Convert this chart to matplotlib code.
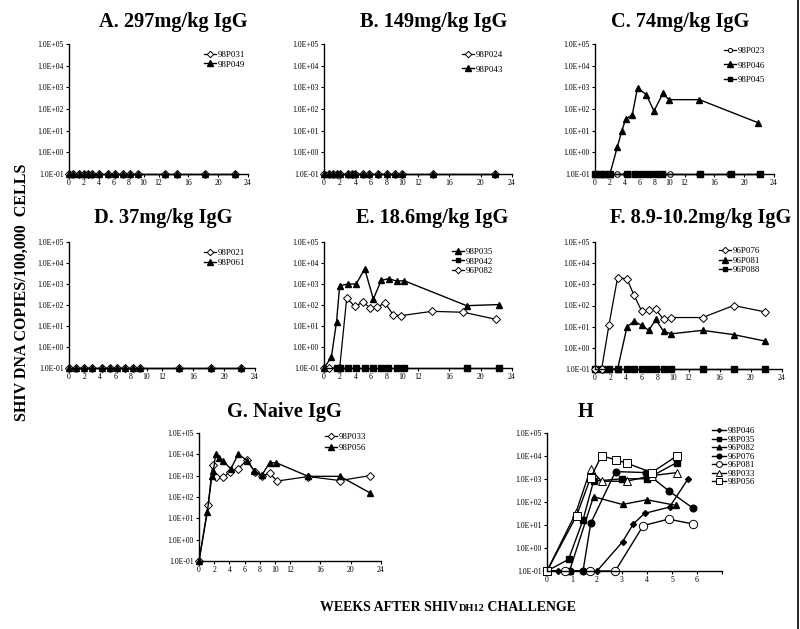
import matplotlib
matplotlib.use('Agg')
import matplotlib.pyplot as plt
from matplotlib.lines import Line2D

plt.rcParams['font.family'] = ['Liberation Serif', 'DejaVu Serif']

# ---------------- data ----------------
ytick_vals = [1e-1, 1e0, 1e1, 1e2, 1e3, 1e4, 1e5]
ytick_labels = ['1.0E-01', '1.0E+00', '1.0E+01', '1.0E+02', '1.0E+03', '1.0E+04', '1.0E+05']
xtick_vals = [0, 2, 4, 6, 8, 10, 12, 16, 20, 24]
xtick_labels = ['0', '2', '4', '6', '8', '10', '12', '16', '20', '24']
h_xtick_vals = [0, 1, 2, 3, 4, 5, 6, 7]
h_xtick_labels = ['0', '1', '2', '3', '4', '5', '6', '']

titles = ['A. 297mg/kg IgG', 'B. 149mg/kg IgG', 'C. 74mg/kg IgG', 'D. 37mg/kg IgG',
          'E. 18.6mg/kg IgG', 'F. 8.9-10.2mg/kg IgG', 'G. Naive IgG', 'H']

# Panel A
a_weeks = [0, 0.6, 1.3, 2.0, 2.6, 3.1, 4.0, 5.2, 6.2, 7.2, 8.2, 9.2, 12.9, 14.5, 18.3, 22.2]
a_98P031 = [0.1, 0.1, 0.1, 0.1, 0.1, 0.1, 0.1, 0.1, 0.1, 0.1, 0.1, 0.1, 0.1, 0.1, 0.1, 0.1]
a_98P049 = [0.1, 0.1, 0.1, 0.1, 0.1, 0.1, 0.1, 0.1, 0.1, 0.1, 0.1, 0.1, 0.1, 0.1, 0.1, 0.1]

# Panel B
b_weeks = [0, 0.6, 1.1, 1.7, 2.1, 3.1, 3.6, 4.0, 5.0, 5.7, 6.9, 8.0, 9.1, 10.0, 13.9, 21.8]
b_98P024 = [0.1, 0.1, 0.1, 0.1, 0.1, 0.1, 0.1, 0.1, 0.1, 0.1, 0.1, 0.1, 0.1, 0.1, 0.1, 0.1]
b_98P043 = [0.1, 0.1, 0.1, 0.1, 0.1, 0.1, 0.1, 0.1, 0.1, 0.1, 0.1, 0.1, 0.1, 0.1, 0.1, 0.1]

# Panel C
c_weeks_023 = [0, 0.7, 1.3, 2.0, 3.0, 4.1, 5.0, 6.0, 6.9, 7.9, 9.1, 10.0, 14.0, 18.0, 22.0]
c_98P023 = [0.1, 0.1, 0.1, 0.1, 0.1, 0.1, 0.1, 0.1, 0.1, 0.1, 0.1, 0.1, 0.1, 0.1, 0.1]
c_weeks_046 = [0, 0.7, 1.3, 2.0, 3.0, 3.6, 4.1, 5.0, 5.7, 6.9, 7.9, 9.1, 9.9, 14.0, 21.9]
c_98P046 = [0.1, 0.1, 0.1, 0.1, 1.8, 10, 33, 55, 950, 450, 80, 520, 270, 270, 23]
c_weeks_045 = [0, 0.7, 1.3, 2.0, 4.3, 5.3, 6.3, 7.2, 8.2, 9.0, 14.1, 18.2, 22.1]
c_98P045 = [0.1, 0.1, 0.1, 0.1, 0.1, 0.1, 0.1, 0.1, 0.1, 0.1, 0.1, 0.1, 0.1]

# Panel D
d_weeks = [0, 0.9, 1.9, 3.0, 4.3, 5.3, 6.2, 7.2, 8.2, 9.1, 14.2, 18.3, 22.2]
d_98P021 = [0.1, 0.1, 0.1, 0.1, 0.1, 0.1, 0.1, 0.1, 0.1, 0.1, 0.1, 0.1, 0.1]
d_98P061 = [0.1, 0.1, 0.1, 0.1, 0.1, 0.1, 0.1, 0.1, 0.1, 0.1, 0.1, 0.1, 0.1]

# Panel E
e_weeks_035 = [0, 0.94, 1.6, 2.0, 3.1, 4.1, 5.2, 6.3, 7.3, 8.3, 9.3, 10.2, 18.2, 22.4]
e_98P035 = [0.1, 0.33, 16, 830, 1000, 1000, 5200, 190, 1500, 1800, 1350, 1450, 93, 105]
e_weeks_042 = [1.6, 2.0, 3.1, 4.1, 5.2, 6.3, 7.3, 8.2, 9.3, 10.2, 18.2, 22.4]
e_98P042 = [0.1, 0.1, 0.1, 0.1, 0.1, 0.1, 0.1, 0.1, 0.1, 0.1, 0.1, 0.1]
e_weeks_082 = [0, 0.6, 2.0, 2.9, 3.9, 5.0, 5.9, 6.8, 7.8, 8.8, 9.8, 13.8, 17.8, 21.9]
e_96P082 = [0.1, 0.1, 0.1, 215, 87, 135, 72, 80, 125, 35, 31, 50, 45, 21]

# Panel F
f_weeks = [0, 0.85, 1.8, 2.9, 4.1, 5.0, 6.0, 6.9, 7.8, 8.8, 9.8, 13.8, 17.8, 21.8]
f_96P076 = [0.1, 0.1, 12.5, 2100, 1800, 310, 54, 60, 65, 22, 27, 27, 100, 50]
f_96P081 = [0.1, 0.1, 0.1, 0.1, 9.6, 18, 11.5, 6.7, 22, 6, 4.6, 6.7, 4.2, 2.1]
f_96P088 = [0.1, 0.1, 0.1, 0.1, 0.1, 0.1, 0.1, 0.1, 0.1, 0.1, 0.1, 0.1, 0.1, 0.1]

# Panel G
g_weeks_033 = [0, 1.2, 1.8, 2.2, 3.2, 4.1, 5.2, 6.3, 7.4, 8.3, 9.3, 10.3, 14.4, 18.6, 22.5]
g_98P033 = [0.1, 42, 3200, 830, 830, 1550, 2100, 5500, 1450, 980, 1300, 560, 910, 590, 1000]
g_weeks_056 = [0, 1.1, 1.7, 1.9, 2.2, 2.7, 3.1, 4.2, 5.2, 6.3, 7.3, 8.3, 9.3, 10.2, 14.4, 18.6, 22.5]
g_98P056 = [0.1, 20, 1000, 1700, 10500, 6600, 5100, 2100, 10500, 5100, 1700, 1070, 4000, 4000, 930, 930, 160]

# Panel H
h_weeks_98P046 = [0, 0.44, 0.88, 1.45, 2.0, 3.02, 3.45, 3.9, 4.9, 5.64]
h_98P046 = [0.1, 0.1, 0.1, 0.1, 0.1, 1.85, 11, 32, 60, 1000]
h_weeks_98P035 = [0, 0.86, 1.44, 1.86, 3.0, 3.99, 5.18]
h_98P035 = [0.1, 0.32, 16.5, 800, 1020, 1020, 5100]
h_weeks_96P082 = [0, 0.9, 1.86, 3.02, 3.99, 5.14]
h_96P082 = [0.1, 0.1, 170, 78, 125, 72]
h_weeks_96P076 = [0, 0.9, 1.44, 1.75, 2.74, 3.95, 4.88, 5.85]
h_96P076 = [0.1, 0.1, 0.1, 12, 2100, 1900, 300, 53]
h_weeks_96P081 = [0, 0.73, 1.73, 2.73, 3.85, 4.86, 5.85]
h_96P081 = [0.1, 0.1, 0.1, 0.1, 9.4, 18, 11]
h_weeks_98P033 = [0, 1.15, 1.74, 2.18, 3.19, 4.19, 5.2]
h_98P033 = [0.1, 33, 2700, 800, 800, 1400, 1900]
h_weeks_98P056 = [0, 1.18, 1.74, 2.18, 2.76, 3.19, 4.19, 5.2]
h_98P056 = [0.1, 25, 1100, 10200, 6800, 4900, 1900, 10200]

# ---------------- figure ----------------
W, H = 800, 629
fig = plt.figure(figsize=(8, 6.29), dpi=100)


def make_axes(x0, y0, x1, y1, xmax=24, xt=xtick_vals, xl=xtick_labels):
    ax = fig.add_axes([x0 / W, 1 - y1 / H, (x1 - x0) / W, (y1 - y0) / H])
    ax.set_yscale('log')
    ax.set_ylim(0.1, 1e5)
    ax.set_xlim(0, xmax)
    ax.set_yticks(ytick_vals)
    ax.set_yticklabels(ytick_labels)
    ax.yaxis.set_minor_locator(plt.NullLocator())
    ax.set_xticks(xt)
    ax.set_xticklabels(xl)
    for s in ['top', 'right']:
        ax.spines[s].set_visible(False)
    for s in ['left', 'bottom']:
        ax.spines[s].set_linewidth(1.0)
    ax.tick_params(axis='both', labelsize=5.6, length=2.2, width=0.8, direction='out', pad=1.5)
    ax.patch.set_alpha(0)
    return ax


STY = {
    'odia': dict(marker='D', ms=4.4, mfc='white', mec='black', mew=0.7, color='black', lw=0.9),
    'ocir': dict(marker='o', ms=4.0, mfc='white', mec='black', mew=0.7, color='black', lw=0.9),
    'tri': dict(marker='^', ms=5.0, mfc='black', mec='black', color='black', lw=1.0),
    'sq': dict(marker='s', ms=4.2, mfc='black', mec='black', color='black', lw=1.0),
    'sdia': dict(marker='D', ms=3.0, mfc='black', mec='black', color='black', lw=1.0),
    'fcir': dict(marker='o', ms=4.8, mfc='black', mec='black', color='black', lw=1.0),
    'ocir2': dict(marker='o', ms=6.0, mfc='white', mec='black', mew=0.7, color='black', lw=1.0),
    'otri': dict(marker='^', ms=6.0, mfc='white', mec='black', mew=0.7, color='black', lw=1.0),
    'osq': dict(marker='s', ms=6.0, mfc='white', mec='black', mew=0.7, color='black', lw=1.0),
}


def plot(ax, x, y, style, label):
    ln, = ax.plot(x, y, clip_on=False, label=label, **STY[style])
    return ln


def legend(ax, handles, lx, ly, spacing, fs=6.5):
    ax.legend(handles=handles, loc='upper left', bbox_to_anchor=(lx / W, 1 - ly / H),
              bbox_transform=fig.transFigure, frameon=False, fontsize=fs,
              handlelength=1.3, handletextpad=0.25, borderpad=0, borderaxespad=0,
              labelspacing=spacing, markerscale=0.75)


# A
ax = make_axes(69, 44, 248, 174)
l1 = plot(ax, a_weeks, a_98P031, 'odia', '98P031')
l2 = plot(ax, a_weeks, a_98P049, 'tri', '98P049')
legend(ax, [l1, l2], 204, 51, 0.1)

# B
ax = make_axes(324, 44, 512, 174)
l1 = plot(ax, b_weeks, b_98P024, 'odia', '98P024')
l2 = plot(ax, b_weeks, b_98P043, 'tri', '98P043')
legend(ax, [l1, l2], 462, 51, 0.65)

# C
ax = make_axes(595, 44, 774, 174)
l1 = plot(ax, c_weeks_023, c_98P023, 'ocir', '98P023')
l3 = plot(ax, c_weeks_045, c_98P045, 'sq', '98P045')
l2 = plot(ax, c_weeks_046, c_98P046, 'tri', '98P046')
legend(ax, [l1, l2, l3], 724, 47, 0.65)

# D
ax = make_axes(69, 242, 255, 368)
l1 = plot(ax, d_weeks, d_98P021, 'odia', '98P021')
l2 = plot(ax, d_weeks, d_98P061, 'tri', '98P061')
legend(ax, [l1, l2], 204, 249, 0.2)

# E
ax = make_axes(324, 242, 512, 368)
l3 = plot(ax, e_weeks_082, e_96P082, 'odia', '96P082')
l2 = plot(ax, e_weeks_042, e_98P042, 'sq', '98P042')
l1 = plot(ax, e_weeks_035, e_98P035, 'tri', '98P035')
legend(ax, [l1, l2, l3], 452, 248, 0.1)

# F
ax = make_axes(595, 242, 782, 369)
l3 = plot(ax, f_weeks, f_96P088, 'sq', '96P088')
l2 = plot(ax, f_weeks, f_96P081, 'tri', '96P081')
l1 = plot(ax, f_weeks, f_96P076, 'odia', '96P076')
legend(ax, [l1, l2, l3], 719, 247, 0.12)

# G
ax = make_axes(199, 433, 381, 561)
l1 = plot(ax, g_weeks_033, g_98P033, 'odia', '98P033')
l2 = plot(ax, g_weeks_056, g_98P056, 'tri', '98P056')
legend(ax, [l1, l2], 325, 433, 0.3)

# H
ax = make_axes(547, 433, 722, 571, xmax=7, xt=h_xtick_vals, xl=h_xtick_labels)
hl = []
hl.append(plot(ax, h_weeks_98P046, h_98P046, 'sdia', '98P046'))
hl.append(plot(ax, h_weeks_98P035, h_98P035, 'sq', '98P035'))
hl.append(plot(ax, h_weeks_96P082, h_96P082, 'tri', '96P082'))
hl.append(plot(ax, h_weeks_96P076, h_96P076, 'fcir', '96P076'))
hl.append(plot(ax, h_weeks_96P081, h_96P081, 'ocir2', '96P081'))
hl.append(plot(ax, h_weeks_98P033, h_98P033, 'otri', '98P033'))
hl.append(plot(ax, h_weeks_98P056, h_98P056, 'osq', '98P056'))
ax.legend(handles=hl, loc='upper left', bbox_to_anchor=(712 / W, 1 - 427 / H),
          bbox_transform=fig.transFigure, frameon=False, fontsize=6.5,
          handlelength=1.6, handletextpad=0.2, borderpad=0, borderaxespad=0,
          labelspacing=0.02, markerscale=0.7)

# titles
title_pos = [(173, 22), (434, 22), (680, 22), (163, 218), (432, 218), (701, 218), (284, 412), (586, 412)]
for t, (cx, cy) in zip(titles, title_pos):
    fig.text(cx / W, 1 - cy / H, t, ha='center', va='center', fontsize=14.7, fontweight='bold')

# axis labels
fig.text(22 / W, 1 - 292 / H, 'SHIV DNA COPIES/100,000  CELLS', rotation=90,
         ha='center', va='center', fontsize=11.5, fontweight='bold')
ybase = 1 - 611 / H
t1 = fig.text(320 / W, ybase, 'WEEKS AFTER SHIV', ha='left', va='baseline',
              fontsize=10, fontweight='bold')
fig.canvas.draw()
r = fig.canvas.get_renderer()
bb1 = t1.get_window_extent(r)
t2 = fig.text(bb1.x1 / W + 0.5 / W, ybase, 'DH12', fontsize=7.5, fontweight='bold',
              va='baseline', ha='left')
fig.canvas.draw()
bb2 = t2.get_window_extent(r)
fig.text(bb2.x1 / W, ybase, ' CHALLENGE', ha='left', va='baseline',
         fontsize=10, fontweight='bold')

# right border line of the original sheet
fig.add_artist(Line2D([798 / W, 798 / W], [0, 1], color='black', lw=1.2))

fig.savefig('out.png', dpi=100)
